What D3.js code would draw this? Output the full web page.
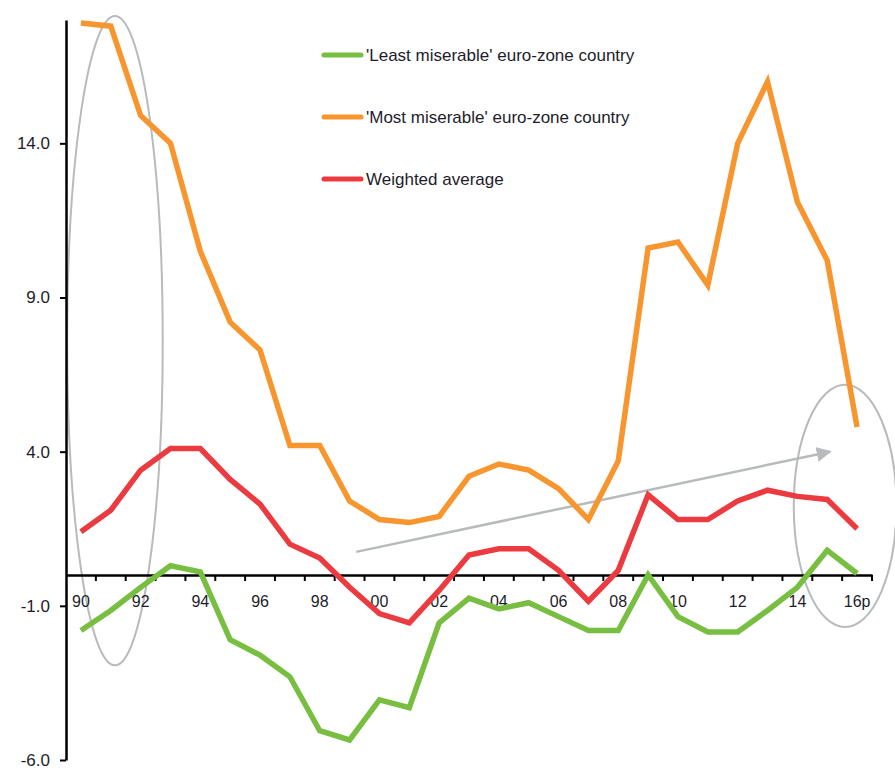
<!DOCTYPE html>
<html>
<head>
<meta charset="utf-8">
<script src="https://cdn.jsdelivr.net/npm/d3@7"></script>
<style>
  body { margin: 0; background: #fff; }
  text { font-family: "Liberation Sans", Arial, sans-serif; fill: #1d1d2b; }
</style>
</head>
<body>
<div id="chart"></div>
<script>
// Data
const years = ["90","91","92","93","94","95","96","97","98","99","00","01","02","03",
  "04","05","06","07","08","09","10","11","12","13","14","15","16p"];
const mostMiserable = [17.9, 17.8, 14.9, 14.0, 10.5, 8.2, 7.3, 4.2, 4.2, 2.4, 1.8, 1.7, 1.9, 3.2,
  3.6, 3.4, 2.8, 1.8, 3.7, 10.6, 10.8, 9.4, 14.0, 16.0, 12.1, 10.2, 4.8];
const weightedAverage = [1.4, 2.1, 3.4, 4.1, 4.1, 3.1, 2.3, 1.0, 0.55, -0.4, -1.25, -1.55, -0.5, 0.65,
  0.85, 0.85, 0.15, -0.85, 0.15, 2.6, 1.8, 1.8, 2.4, 2.75, 2.55, 2.45, 1.5];
const leastMiserable = [-1.8, -1.15, -0.4, 0.3, 0.1, -2.1, -2.6, -3.3, -5.05, -5.35, -4.05, -4.3, -1.55, -0.75,
  -1.1, -0.9, -1.35, -1.8, -1.8, 0.0, -1.35, -1.85, -1.85, -1.15, -0.4, 0.8, 0.05];
const yTicks = [14, 9, 4, -1, -6];
const labelledYears = ["90","92","94","96","98","00","02","04","06","08","10","12","14","16p"];

const series = [
  { name: "'Least miserable' euro-zone country", values: leastMiserable, color: "#78be41" },
  { name: "'Most miserable' euro-zone country", values: mostMiserable, color: "#f7952e" },
  { name: "Weighted average", values: weightedAverage, color: "#ec3b40" }
];
// drawing order: orange, red, green on top
const drawOrder = [1, 2, 0];

const width = 895;
const height = 769;
const margin = { top: 20, right: 23, bottom: 9, left: 66 };

const svg = d3.select("#chart")
  .append("svg")
    .attr("width", width)
    .attr("height", height);

const xScale = d3.scaleBand()
  .domain(years)
  .range([margin.left, width - margin.right])
  .padding(0);

const yScale = d3.scaleLinear()
  .domain([-6, 18])
  .range([height - margin.bottom, margin.top]);

const xCenter = d => xScale(d) + xScale.bandwidth() / 2;
// fractional band position, for the hand-drawn annotations
const xAt = i => margin.left + i * xScale.step();

//***************/
// Annotations (grey ellipses and arrow), drawn under the lines
//**************/
const ellipses = [
  { band: 1.64, value: 7.6, rBand: 1.6, rValue: 10.53 },
  { band: 26.1, value: 2.24, rBand: 1.72, rValue: 3.93 }
];
const arrow = { from: [9.72, 0.75], to: [25.6, 4.0] };

const greyColor = "#b7bbbc";

svg.append("defs")
  .append("marker")
    .attr("id", "arrowhead")
    .attr("viewBox", "0 0 10 10")
    .attr("refX", 9)
    .attr("refY", 5)
    .attr("markerWidth", 6)
    .attr("markerHeight", 6)
    .attr("markerUnits", "strokeWidth")
    .attr("orient", "auto")
  .append("path")
    .attr("d", "M0,0 L10,5 L0,10 z")
    .attr("fill", greyColor);

svg.selectAll(".ring")
  .data(ellipses)
  .join("ellipse")
    .attr("class", "ring")
    .attr("cx", d => xAt(d.band))
    .attr("cy", d => yScale(d.value))
    .attr("rx", d => d.rBand * xScale.step())
    .attr("ry", d => yScale(0) - yScale(d.rValue))
    .attr("fill", "none")
    .attr("stroke", greyColor)
    .attr("stroke-width", 2);

svg.append("line")
    .attr("x1", xAt(arrow.from[0]))
    .attr("y1", yScale(arrow.from[1]))
    .attr("x2", xAt(arrow.to[0]))
    .attr("y2", yScale(arrow.to[1]))
    .attr("stroke", greyColor)
    .attr("stroke-width", 2.5)
    .attr("marker-end", "url(#arrowhead)");

//***************/
// Axes
//**************/
const yAxis = d3.axisLeft(yScale)
  .tickValues(yTicks)
  .tickFormat(d => d.toFixed(1))
  .tickSize(6)
  .tickSizeOuter(0)
  .tickPadding(10);

const yAxisGroup = svg.append("g")
    .attr("transform", `translate(${margin.left}, 0)`)
    .call(yAxis);
yAxisGroup.select(".domain")
    .attr("stroke", "#000")
    .attr("stroke-width", 2.5);
yAxisGroup.selectAll(".tick line")
    .attr("stroke", "#000")
    .attr("stroke-width", 2);
yAxisGroup.selectAll(".tick text")
    .style("font-size", "17px")
    .style("font-family", "'Liberation Sans', Arial, sans-serif")
    .attr("fill", "#1d1d2b");

// x axis sits on zero, labels on every other year
const xAxis = d3.axisBottom(xScale)
  .tickSize(0)
  .tickPadding(21)
  .tickFormat(d => labelledYears.includes(d) ? d : "");

const xAxisGroup = svg.append("g")
    .attr("transform", `translate(0, ${yScale(0)})`)
    .call(xAxis);
xAxisGroup.select(".domain")
    .attr("stroke", "#000")
    .attr("stroke-width", 2.5);
xAxisGroup.selectAll(".tick text")
    .style("font-size", "16px")
    .style("font-family", "'Liberation Sans', Arial, sans-serif")
    .attr("fill", "#1d1d2b");

// minor ticks on the band boundaries
const boundaries = years.map(d => xScale(d)).concat([xScale.range()[1]]);
xAxisGroup.selectAll(".boundary")
  .data(boundaries.slice(1))
  .join("line")
    .attr("class", "boundary")
    .attr("x1", d => d)
    .attr("x2", d => d)
    .attr("y1", 0)
    .attr("y2", 6)
    .attr("stroke", "#000")
    .attr("stroke-width", 2);

//***************/
// Lines
//**************/
const lineGenerator = d3.line()
  .x((d, i) => xCenter(years[i]))
  .y(d => yScale(d));

svg.selectAll(".series")
  .data(drawOrder.map(i => series[i]))
  .join("path")
    .attr("class", "series")
    .attr("d", d => lineGenerator(d.values))
    .attr("fill", "none")
    .attr("stroke", d => d.color)
    .attr("stroke-width", 5.5)
    .attr("stroke-linejoin", "miter");

//***************/
// Legend
//**************/
const legend = svg.append("g")
    .attr("transform", "translate(322, 55)");

const legendItems = legend.selectAll(".legend-item")
  .data(series)
  .join("g")
    .attr("class", "legend-item")
    .attr("transform", (d, i) => `translate(0, ${i * 62})`);

legendItems.append("line")
    .attr("x1", 2)
    .attr("x2", 39)
    .attr("stroke", d => d.color)
    .attr("stroke-width", 5)
    .attr("stroke-linecap", "round");

legendItems.append("text")
    .text(d => d.name)
    .attr("x", 44)
    .attr("dy", "0.35em")
    .style("font-size", "17px");
</script>
</body>
</html>
